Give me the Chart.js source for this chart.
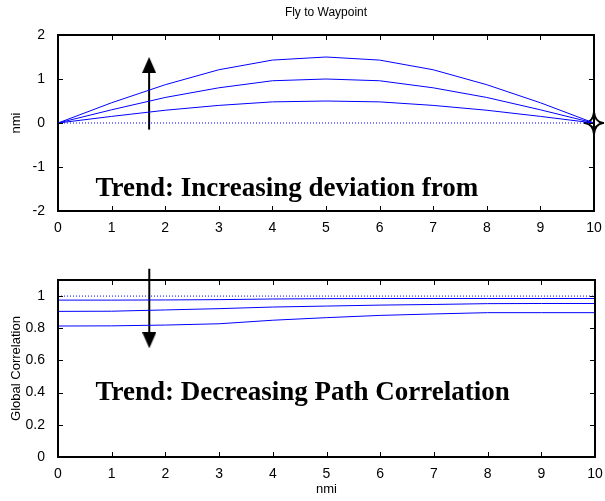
<!DOCTYPE html>
<html>
<head>
<meta charset="utf-8">
<script src="https://cdn.jsdelivr.net/npm/chart.js@4.4.1/dist/chart.umd.min.js"></script>
<style>
  html, body { margin: 0; padding: 0; background: #fff; }
  .box { position: absolute; left: 0; width: 605px; }
  #top { top: 0; height: 245px; }
  #bot { top: 245px; height: 256px; }
</style>
</head>
<body>
<div class="box" id="top"><canvas id="chartTop"></canvas></div>
<div class="box" id="bot"><canvas id="chartBot"></canvas></div>
<script>
// datos
const distNmi = [0, 1, 2, 3, 4, 5, 6, 7, 8, 9, 10];

// desviacion lateral (nmi)
const devSmall = [0, 0.15, 0.29, 0.40, 0.48, 0.50, 0.48, 0.40, 0.29, 0.15, 0];
const devMid = [0, 0.30, 0.58, 0.80, 0.96, 1.00, 0.96, 0.80, 0.58, 0.30, 0];
const devLarge = [0, 0.46, 0.87, 1.21, 1.43, 1.50, 1.43, 1.21, 0.87, 0.46, 0];
const devRef = [0, 0, 0, 0, 0, 0, 0, 0, 0, 0, 0];

// correlacion global
const corrSmall = [0.975, 0.975, 0.976, 0.978, 0.982, 0.984, 0.985, 0.985, 0.985, 0.985, 0.985];
const corrMid = [0.905, 0.906, 0.914, 0.922, 0.932, 0.938, 0.944, 0.948, 0.953, 0.954, 0.954];
const corrLarge = [0.814, 0.815, 0.820, 0.828, 0.850, 0.866, 0.880, 0.889, 0.897, 0.897, 0.897];
const corrRef = [1, 1, 1, 1, 1, 1, 1, 1, 1, 1, 1];

// waypoint y flechas
const waypointX = [10];
const waypointY = [0];
const arrowUpX = [1.7, 1.7];
const arrowUpY = [-0.15, 1.32];
const arrowDownX = [1.7, 1.7];
const arrowDownY = [1.17, 0.725];

// ejes
const xTicks = [0, 1, 2, 3, 4, 5, 6, 7, 8, 9, 10];
const yTicksTop = [-2, -1, 0, 1, 2];
const yTicksBot = [0, 0.2, 0.4, 0.6, 0.8, 1];

// textos
const chartTitle = 'Fly to Waypoint';
const trendTop = 'Trend: Increasing deviation from';
const trendBot = 'Trend: Decreasing Path Correlation';

const BLUE = '#0000ff';
const tickFont = { family: 'Liberation Sans, Arial, sans-serif', size: 14 };

const pts = (xs, ys) => xs.map((x, i) => ({ x: x, y: ys[i] }));

// estrella de 4 puntas
function makeStar() {
  const c = document.createElement('canvas');
  c.width = 20; c.height = 24;
  const g = c.getContext('2d');
  const cx = 10, cy = 12;
  g.beginPath();
  g.moveTo(cx, cy - 11);
  g.quadraticCurveTo(cx + 1, cy - 1, cx + 9, cy);
  g.quadraticCurveTo(cx + 1, cy + 1, cx, cy + 11);
  g.quadraticCurveTo(cx - 1, cy + 1, cx - 9, cy);
  g.quadraticCurveTo(cx - 1, cy - 1, cx, cy - 11);
  g.closePath();
  g.fillStyle = '#fff';
  g.fill();
  g.lineWidth = 2;
  g.strokeStyle = '#000';
  g.stroke();
  return c;
}
const starImg = makeStar();

// punta de flecha
function makeHead(up) {
  const c = document.createElement('canvas');
  c.width = 14; c.height = 16;
  const g = c.getContext('2d');
  g.beginPath();
  if (up) { g.moveTo(7, 0); g.lineTo(14, 16); g.lineTo(0, 16); }
  else { g.moveTo(7, 16); g.lineTo(14, 0); g.lineTo(0, 0); }
  g.closePath();
  g.fillStyle = '#000';
  g.fill();
  return c;
}

// marco y marcas hacia dentro (estilo matlab)
const boxTicks = {
  id: 'boxTicks',
  afterDatasetsDraw(chart) {
    const { ctx, chartArea: a, scales } = chart;
    ctx.save();
    ctx.strokeStyle = '#000';
    ctx.lineWidth = 1;
    ctx.beginPath();
    scales.x.ticks.forEach(t => {
      const px = Math.round(scales.x.getPixelForValue(t.value)) + 0.5;
      ctx.moveTo(px, a.bottom); ctx.lineTo(px, a.bottom - 5);
      ctx.moveTo(px, a.top); ctx.lineTo(px, a.top + 5);
    });
    scales.y.ticks.forEach(t => {
      const py = Math.round(scales.y.getPixelForValue(t.value)) + 0.5;
      ctx.moveTo(a.left, py); ctx.lineTo(a.left + 5, py);
      ctx.moveTo(a.right, py); ctx.lineTo(a.right - 5, py);
    });
    ctx.stroke();
    ctx.lineWidth = 2;
    ctx.strokeRect(a.left, a.top, a.right - a.left, a.bottom - a.top);
    ctx.restore();
  }
};

// texto de tendencia y titulo
const notes = {
  id: 'notes',
  afterDraw(chart, args, opts) {
    const { ctx, chartArea: a, scales } = chart;
    ctx.save();
    if (opts.title) {
      ctx.font = '12px Liberation Sans, Arial, sans-serif';
      ctx.fillStyle = '#000';
      ctx.textAlign = 'center';
      ctx.textBaseline = 'middle';
      ctx.fillText(opts.title, (a.left + a.right) / 2, 13);
    }
    ctx.font = 'bold 27px Liberation Serif, Times New Roman, serif';
    ctx.fillStyle = '#000';
    ctx.textAlign = 'left';
    ctx.textBaseline = 'middle';
    ctx.fillText(opts.text, scales.x.getPixelForValue(opts.x), scales.y.getPixelForValue(opts.y));
    ctx.restore();
  }
};

function lineSet(data, dashed) {
  return {
    data: pts(distNmi, data),
    borderColor: BLUE,
    borderWidth: 1,
    borderDash: dashed ? [1, 2] : [],
    pointRadius: 0,
    tension: 0
  };
}

function arrowSet(xs, ys, up) {
  return {
    data: pts(xs, ys),
    borderColor: '#000',
    borderWidth: 2,
    pointStyle: makeHead(up),
    pointRadius: [0, 8],
    clip: false
  };
}

function makeOptions(ymin, ymax, yTicks, yTitle, xTitle, axisH, noteOpts) {
  return {
    responsive: true,
    maintainAspectRatio: false,
    animation: false,
    layout: { padding: { top: 35, right: 8, left: 0, bottom: 0 } },
    plugins: {
      legend: { display: false },
      tooltip: { enabled: false },
      notes: noteOpts
    },
    scales: {
      x: {
        type: 'linear',
        min: 0, max: 10,
        afterBuildTicks: s => { s.ticks = xTicks.map(v => ({ value: v })); },
        afterFit: s => { s.height = axisH; },
        grid: { display: false },
        border: { display: false },
        ticks: { color: '#000', font: tickFont, padding: 1, maxRotation: 0 },
        title: { display: !!xTitle, text: xTitle, color: '#000', font: { family: tickFont.family, size: 13 }, padding: { top: 5 } }
      },
      y: {
        type: 'linear',
        min: ymin, max: ymax,
        afterBuildTicks: s => { s.ticks = yTicks.map(v => ({ value: v })); },
        afterFit: s => { s.width = 58; },
        grid: { display: false },
        border: { display: false },
        ticks: { color: '#000', font: tickFont, padding: 5, callback: v => String(v) },
        title: { display: true, text: yTitle, color: '#000', font: { family: tickFont.family, size: 13 }, padding: { top: 9, bottom: 0 } }
      }
    }
  };
}

new Chart(document.getElementById('chartTop'), {
  type: 'line',
  data: {
    datasets: [
      lineSet(devRef, true),
      lineSet(devSmall),
      lineSet(devMid),
      lineSet(devLarge),
      arrowSet(arrowUpX, arrowUpY, true),
      {
        data: pts(waypointX, waypointY),
        showLine: false,
        pointStyle: starImg,
        pointRadius: 10,
        clip: false
      }
    ]
  },
  options: makeOptions(-2, 2, yTicksTop, 'nmi', '', 34,
    { title: chartTitle, text: trendTop, x: 0.7, y: -1.5 }),
  plugins: [boxTicks, notes]
});

new Chart(document.getElementById('chartBot'), {
  type: 'line',
  data: {
    datasets: [
      lineSet(corrRef, true),
      lineSet(corrSmall),
      lineSet(corrMid),
      lineSet(corrLarge),
      arrowSet(arrowDownX, arrowDownY, false)
    ]
  },
  options: makeOptions(0, 1.1, yTicksBot, 'Global Correlation', 'nmi', 44,
    { title: '', text: trendBot, x: 0.7, y: 0.4 }),
  plugins: [boxTicks, notes]
});
</script>
</body>
</html>
